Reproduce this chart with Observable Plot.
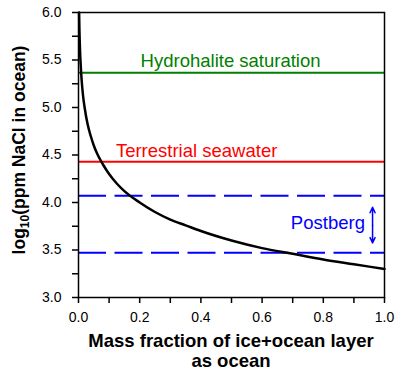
<!DOCTYPE html>
<html><head><meta charset="utf-8">
<script src="https://cdn.jsdelivr.net/npm/d3@7"></script>
<script src="https://cdn.jsdelivr.net/npm/@observablehq/plot@0.6"></script>
<style>body{margin:0;background:#fff;} svg{font-family:"Liberation Sans",Arial,sans-serif;}</style>
</head><body><div id="chart"></div>
<script>
// Curve: log10(ppm NaCl) vs mass fraction
const massFraction = [0.002,0.003,0.004,0.005,0.007,0.01,0.015,0.02,0.03,0.04,0.05,0.06,0.08,0.1,0.125,0.15,0.2,0.25,0.3,0.35,0.4,0.5,0.6,0.7,0.8,0.9,1.0];
const logPpm       = [6.00,5.82,5.70,5.60,5.46,5.30,5.12,5.00,4.82,4.70,4.60,4.52,4.40,4.30,4.20,4.12,4.00,3.90,3.82,3.76,3.70,3.60,3.52,3.46,3.40,3.35,3.30];

const refNames  = ["Hydrohalite saturation", "Terrestrial seawater"];
const refValues = [5.366, 4.43];
const refColors = ["#008000", "#ff0000"];
const refLabelX = [0.497, 0.386];
const refLabelY = [5.49, 4.54];

const postbergBounds = [4.07, 3.47];
const postbergLabel = "Postberg";
const postbergLabelPos = [0.815, 3.78];
const postbergArrowX = 0.961;
const postbergArrowMid = 3.76;
const postbergArrowEnds = [3.95, 3.575];

const xTicks = [0, 0.2, 0.4, 0.6, 0.8, 1.0];
const xMinor = [0.1, 0.3, 0.5, 0.7, 0.9];
const yTicks = [3.0, 3.5, 4.0, 4.5, 5.0, 5.5, 6.0];
const yMinor = [3.25, 3.75, 4.25, 4.75, 5.25, 5.75];

const curve = massFraction.map((x, i) => ({x, y: logPpm[i]}));
const refs = refNames.map((name, i) => ({name, value: refValues[i], color: refColors[i], lx: refLabelX[i], ly: refLabelY[i]}));

const W = 396, H = 375;
const chart = Plot.plot({
  width: W, height: H,
  marginLeft: 78, marginRight: 12, marginTop: 12, marginBottom: 78,
  style: {fontFamily: '"Liberation Sans", Arial, sans-serif', background: "#fff", color: "#000"},
  x: {domain: [0, 1]},
  y: {domain: [3, 6]},
  marks: [
    Plot.ruleY(refs, {y: "value", stroke: "color", strokeWidth: 2}),
    Plot.ruleY(postbergBounds, {stroke: "#0000ff", strokeWidth: 2, strokeDasharray: "28,8.5"}),
    Plot.line(curve, {x: "x", y: "y", curve: "monotone-x", stroke: "#000", strokeWidth: 2.5}),
    Plot.text(refs, {x: "lx", y: "ly", text: "name", fill: "color", fontSize: 18.5, textAnchor: "middle"}),
    Plot.text([postbergLabel], {x: postbergLabelPos[0], y: postbergLabelPos[1], text: d => d, fill: "#0000ff", fontSize: 18.5, textAnchor: "middle"}),
    Plot.arrow(postbergArrowEnds, {x1: postbergArrowX, x2: postbergArrowX, y1: postbergArrowMid, y2: d => d, stroke: "#0000ff", strokeWidth: 1.5, headLength: 9, headAngle: 50}),
    Plot.axisX({ticks: xTicks, tickFormat: d => d.toFixed(1), tickSize: 6, tickPadding: 9, fontSize: 14, strokeWidth: 1.5, label: null}),
    Plot.axisX({ticks: xMinor, tickFormat: () => "", tickSize: 6, strokeWidth: 1.5, label: null}),
    Plot.axisY({ticks: yTicks, tickFormat: d => d.toFixed(1), tickSize: 6, tickPadding: 11, fontSize: 14, strokeWidth: 1.5, label: null}),
    Plot.axisY({ticks: yMinor, tickFormat: () => "", tickSize: 6, strokeWidth: 1.5, label: null}),
    Plot.frame({stroke: "#000", strokeWidth: 1.5})
  ]
});

const svg = d3.select(chart);
// Y axis title with subscript
const yt = svg.append("text")
  .attr("transform", "translate(25,150) rotate(-90)")
  .attr("text-anchor", "middle")
  .attr("font-size", 17.5).attr("font-weight", "bold").attr("fill", "#000");
yt.append("tspan").text("log");
yt.append("tspan").attr("font-size", 12).attr("dy", 4).text("10");
yt.append("tspan").attr("dy", -4).text("(ppm NaCl in ocean)");
// X axis title, two lines
const xt = svg.append("text")
  .attr("text-anchor", "middle")
  .attr("font-size", 18.5).attr("font-weight", "bold").attr("fill", "#000");
xt.append("tspan").attr("x", 231).attr("y", 347).text("Mass fraction of ice+ocean layer");
xt.append("tspan").attr("x", 231).attr("y", 367).text("as ocean");

document.getElementById("chart").appendChild(chart);
</script>
</body></html>
